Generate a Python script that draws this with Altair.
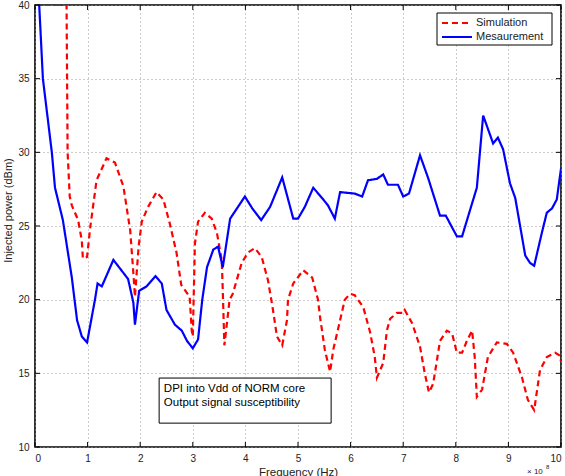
import altair as alt
import pandas as pd

# ---- data ----
sim_x = [0.0, 0.60, 0.62, 0.66, 0.70, 0.82, 0.89, 0.91, 0.99, 1.05, 1.17, 1.36, 1.52, 1.68, 1.81, 1.87,
         1.90, 1.97, 2.03, 2.15, 2.31, 2.44, 2.56, 2.69, 2.78, 2.94, 2.98, 3.00, 3.04, 3.10, 3.23, 3.36,
         3.46, 3.55, 3.57, 3.60, 3.70, 3.76, 3.93, 4.05, 4.18, 4.31, 4.43, 4.52, 4.60, 4.70, 4.79, 4.81,
         4.91, 5.10, 5.27, 5.38, 5.42, 5.51, 5.61, 5.67, 5.80, 5.89, 5.99, 6.08, 6.24, 6.37, 6.46, 6.50,
         6.62, 6.69, 6.75, 6.88, 7.00, 7.03, 7.17, 7.32, 7.41, 7.49, 7.57, 7.70, 7.83, 7.93, 8.02, 8.12,
         8.21, 8.31, 8.36, 8.40, 8.50, 8.61, 8.78, 8.97, 9.09, 9.26, 9.37, 9.49, 9.60, 9.73, 9.89, 9.98,
         10.0]
sim_y = [40.0, 40.0, 30.0, 27.0, 26.4, 25.4, 24.0, 22.8, 22.9, 24.9, 28.1, 29.6, 29.3, 27.7, 24.7, 21.8,
         20.2, 23.6, 25.3, 26.3, 27.3, 26.8, 25.2, 23.2, 21.0, 20.2, 17.9, 17.5, 23.8, 25.3, 25.9, 25.5,
         24.5, 22.7, 20.6, 16.9, 20.0, 20.4, 22.5, 23.2, 23.5, 22.9, 21.3, 19.4, 17.5, 16.9, 18.6, 20.0,
         21.1, 22.0, 21.5, 20.0, 18.8, 16.6, 15.1, 16.6, 18.6, 20.0, 20.4, 20.3, 19.5, 17.8, 16.1, 14.7,
         15.7, 17.9, 18.7, 19.1, 19.1, 19.3, 18.4, 16.8, 15.0, 13.7, 14.3, 17.2, 17.9, 17.7, 16.4, 16.4,
         17.2, 17.9, 16.1, 13.4, 13.9, 16.1, 17.1, 17.0, 16.4, 14.7, 13.2, 12.5, 15.2, 16.1, 16.4, 16.2,
         15.8]

meas_x = [0.0, 0.08, 0.15, 0.32, 0.38, 0.53, 0.70, 0.80, 0.89, 0.99, 1.14, 1.19, 1.27, 1.49, 1.77, 1.87,
          1.90, 1.98, 2.12, 2.29, 2.41, 2.50, 2.66, 2.79, 2.89, 3.00, 3.10, 3.18, 3.27, 3.39, 3.48, 3.57,
          3.71, 3.99, 4.13, 4.30, 4.47, 4.70, 4.91, 5.00, 5.13, 5.29, 5.48, 5.57, 5.70, 5.80, 6.08, 6.22,
          6.33, 6.50, 6.62, 6.71, 6.90, 7.00, 7.11, 7.32, 7.47, 7.70, 7.81, 8.02, 8.12, 8.23, 8.40, 8.52,
          8.71, 8.80, 8.90, 9.03, 9.13, 9.32, 9.41, 9.49, 9.64, 9.73, 9.83, 9.92, 10.0]
meas_y = [45.5, 40.0, 35.0, 30.0, 27.6, 25.4, 21.5, 18.6, 17.5, 17.1, 20.0, 21.1, 20.9, 22.7, 21.4, 19.8,
          18.3, 20.6, 20.9, 21.6, 21.1, 19.3, 18.3, 17.9, 17.2, 16.7, 17.3, 20.0, 22.2, 23.4, 23.6, 22.2,
          25.5, 27.0, 26.2, 25.4, 26.3, 28.3, 25.5, 25.5, 26.3, 27.6, 26.8, 26.4, 25.5, 27.3, 27.2, 27.0,
          28.1, 28.2, 28.5, 27.8, 27.8, 27.0, 27.2, 29.8, 28.3, 25.7, 25.7, 24.3, 24.3, 25.6, 27.6, 32.5,
          30.6, 31.0, 30.2, 27.9, 26.9, 23.0, 22.5, 22.3, 24.6, 25.9, 26.2, 26.8, 28.9]

series = ["Simulation", "Mesaurement"]
colors = ["#ff0000", "#0000ff"]
x_ticks = [0, 1, 2, 3, 4, 5, 6, 7, 8, 9, 10]
y_ticks = [10, 15, 20, 25, 30, 35, 40]
note_lines = ["DPI into Vdd of NORM core", "Output signal susceptibility"]

# ---- annotation placement (data coordinates) ----
note_box_x = [2.36, 5.63]
note_box_y = [11.62, 14.68]
note_text_x = [2.45, 2.45]
note_text_y = [13.73, 12.78]

W, H = 526, 442
FONT = "Liberation Sans"

df = pd.concat([
    pd.DataFrame({"f": sim_x, "p": sim_y, "series": series[0]}),
    pd.DataFrame({"f": meas_x, "p": meas_y, "series": series[1]}),
], ignore_index=True)
df["idx"] = range(len(df))

xs = alt.Scale(domain=[0, 10], nice=False, zero=False)
ys = alt.Scale(domain=[10, 40], nice=False, zero=False)

x_axis = alt.Axis(
    values=x_ticks, grid=True, ticks=False, domain=False, labelPadding=6,
    labelFontSize=10, labelFont=FONT, labelColor="#222", format="d",
    title="Frequency (Hz)", titleFont=FONT, titleFontSize=11.5, titleFontWeight="normal",
    titleX=263, titleY=28, titleAlign="center", titleBaseline="alphabetic", titleColor="#222",
    gridDash=[1, 3], gridColor="#9a9a9a", gridWidth=1)
y_axis = alt.Axis(
    values=y_ticks, grid=True, ticks=False, domain=False, labelPadding=6,
    labelFontSize=10, labelFont=FONT, labelColor="#222",
    title="Injected power (dBm)", titleFont=FONT, titleFontSize=11, titleFontWeight="normal",
    titleAngle=270, titleX=-27, titleY=205, titleAlign="center", titleBaseline="middle",
    titleColor="#222",
    gridDash=[1, 3], gridColor="#9a9a9a", gridWidth=1)

X = lambda field: alt.X(field, scale=xs, axis=x_axis)
Y = lambda field: alt.Y(field, scale=ys, axis=y_axis)

lines = alt.Chart(df).mark_line(clip=True, strokeWidth=2.2).encode(
    x=X("f:Q"), y=Y("p:Q"),
    color=alt.Color("series:N", scale=alt.Scale(domain=series, range=colors), legend=None),
    strokeDash=alt.StrokeDash("series:N", scale=alt.Scale(domain=series, range=[[6, 4], [1, 0]]), legend=None),
    order="idx:Q",
)

xt = pd.DataFrame({"f": x_ticks})
yt = pd.DataFrame({"p": y_ticks})
tick_bottom = alt.Chart(xt).mark_rule(color="black", strokeWidth=1).encode(
    x=X("f:Q"), y=alt.value(H), y2=alt.value(H - 5))
tick_top = alt.Chart(xt).mark_rule(color="black", strokeWidth=1).encode(
    x=X("f:Q"), y=alt.value(0), y2=alt.value(5))
tick_left = alt.Chart(yt).mark_rule(color="black", strokeWidth=1).encode(
    y=Y("p:Q"), x=alt.value(0), x2=alt.value(5))
tick_right = alt.Chart(yt).mark_rule(color="black", strokeWidth=1).encode(
    y=Y("p:Q"), x=alt.value(W), x2=alt.value(W - 5))

box_df = pd.DataFrame({"f": [note_box_x[0]], "f2": [note_box_x[1]],
                       "p": [note_box_y[0]], "p2": [note_box_y[1]]})
note_box = alt.Chart(box_df).mark_rect(fill="white", stroke="black", strokeWidth=1).encode(
    x=X("f:Q"), x2="f2:Q", y=Y("p:Q"), y2="p2:Q")

txt_df = pd.DataFrame({"f": note_text_x, "p": note_text_y, "t": note_lines})
note_text = alt.Chart(txt_df).mark_text(
    align="left", baseline="alphabetic", font=FONT, fontSize=11.5, color="black").encode(
    x=X("f:Q"), y=Y("p:Q"), text="t:N")

# ---- legend (drawn as marks) ----
leg_box = alt.Chart(pd.DataFrame({"a": [0]})).mark_rect(
    fill="white", stroke="black", strokeWidth=1).encode(
    x=alt.value(402), x2=alt.value(517), y=alt.value(8), y2=alt.value(40))
leg_rows = []
for i, (name, col) in enumerate(zip(series, colors)):
    yy = 18 + 14 * i
    d = pd.DataFrame({"t": [name]})
    dash = [6, 4] if i == 0 else [1, 0]
    leg_rows.append(alt.Chart(d).mark_rule(color=col, strokeWidth=2.2, strokeDash=dash).encode(
        x=alt.value(407), x2=alt.value(437), y=alt.value(yy)))
    leg_rows.append(alt.Chart(d).mark_text(
        align="left", baseline="middle", font=FONT, fontSize=11, color="#222").encode(
        text="t:N", x=alt.value(441), y=alt.value(yy)))

exp_main = alt.Chart(pd.DataFrame({"t": ["\u00d7 10"]})).mark_text(
    align="left", baseline="alphabetic", font=FONT, fontSize=8, color="#222").encode(
    text="t:N", x=alt.value(492), y=alt.value(469))
exp_sup = alt.Chart(pd.DataFrame({"t": ["8"]})).mark_text(
    align="left", baseline="alphabetic", font=FONT, fontSize=6, color="#222").encode(
    text="t:N", x=alt.value(511), y=alt.value(464))

chart = alt.layer(
    lines, note_box, note_text, tick_bottom, tick_top, tick_left, tick_right,
    leg_box, *leg_rows, exp_main, exp_sup
).properties(
    width=W, height=H,
    autosize=alt.AutoSizeParams(type="none"),
    padding={"left": 35, "top": 5, "right": 4, "bottom": 29},
    background="white",
).configure_view(
    stroke="black", strokeWidth=1.6
)

chart.save("out.html", embed_options={"renderer": "svg", "actions": False})
